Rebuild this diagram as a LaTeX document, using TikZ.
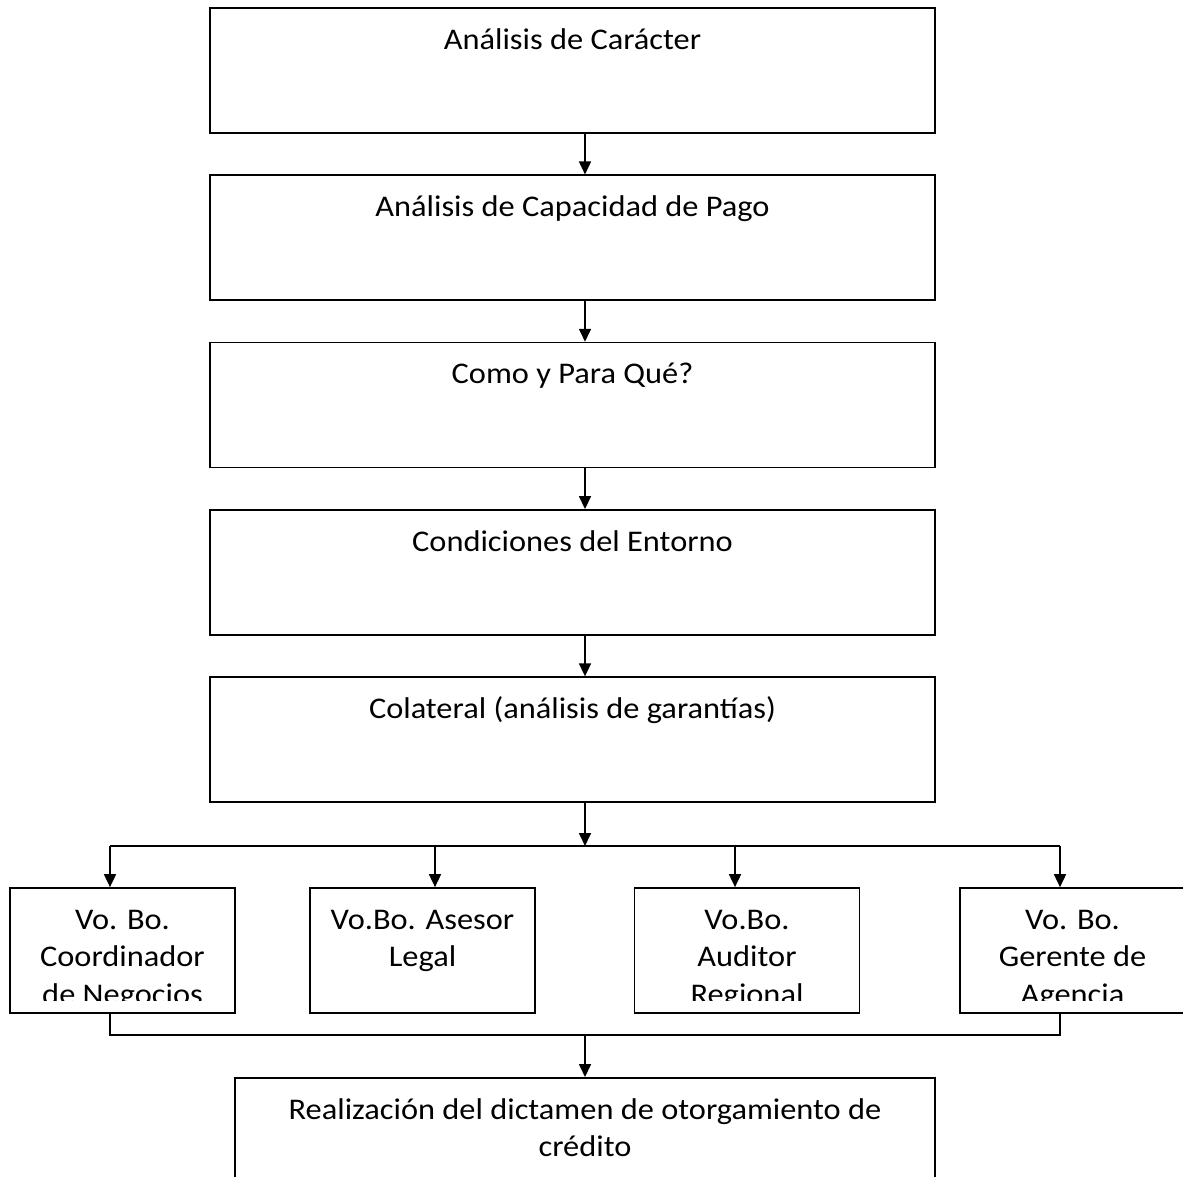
\documentclass[tikz,border=0pt]{standalone}
\usepackage{fontspec}
\setmainfont{Carlito}[FakeStretch=1.08]
\usetikzlibrary{arrows.meta}
\usetikzlibrary{positioning}

\begin{document}
\begin{tikzpicture}[x=1pt,y=1pt,>={Triangle[length=13pt,width=12pt]},line width=1.7pt,
                    big box/.style={rectangle,draw,minimum width=725pt,minimum height=125pt,inner sep=0pt},
                    small box/.style={rectangle,draw,minimum width=225pt,minimum height=125pt,inner sep=0pt},
                    box text/.style={anchor=base,align=center,inner sep=0pt,font=\fontsize{30}{37.5}\selectfont}]

  \clip (0,0) rectangle (1183,-1177);
  \coordinate (axis) at (585,0);

  % main chain
  \node[big box] (car) at (572.5,-70.5) {};
  \node[big box,below=40.6pt of car] (cap) {};
  \node[big box,below=40.6pt of cap] (como) {};
  \node[big box,below=40.6pt of como] (cond) {};
  \node[big box,below=40.6pt of cond] (col) {};

  \node[box text] (car txt) at ([yshift=-42pt]car.north) {Análisis de Carácter};
  \node[box text] (cap txt) at ([yshift=-42pt]cap.north) {Análisis de Capacidad de Pago};
  \node[box text] (como txt) at ([yshift=-42pt]como.north) {Como y Para Qué?};
  \node[box text] (cond txt) at ([yshift=-42pt]cond.north) {Condiciones del Entorno};
  \node[box text] (col txt) at ([yshift=-42pt]col.north) {Colateral (análisis de garantías)};

  % approvals
  \node[small box] (coord) at (122.5,-950.5) {};
  \node[small box] (legal) at (422.5,-950.5) {};
  \node[small box] (audit) at (747,-950.5) {};
  \node[small box] (ger) at (1072.5,-950.5) {};

  % base of a node is its last line: shift by 37.5pt per extra line
  \begin{scope}
    \clip (coord.north west) rectangle ([yshift=13pt]coord.south east);
    \node[box text] (coord txt) at ([yshift=-117pt]coord.north) {Vo. Bo.\\Coordinador\\de Negocios};
  \end{scope}
  \node[box text] (legal txt) at ([yshift=-79.5pt]legal.north) {Vo.Bo. Asesor\\Legal};
  \begin{scope}
    \clip (audit.north west) rectangle ([yshift=13pt]audit.south east);
    \node[box text] (audit txt) at ([yshift=-117pt]audit.north) {Vo.Bo.\\Auditor\\Regional};
  \end{scope}
  \begin{scope}
    \clip (ger.north west) rectangle ([yshift=13pt]ger.south east);
    \node[box text] (ger txt) at ([yshift=-117pt]ger.north) {Vo. Bo.\\Gerente de\\Agencia};
  \end{scope}

  % final box, running past the page
  \node[rectangle,draw,minimum width=700pt,minimum height=140pt,inner sep=0pt,anchor=north] (dict) at (585,-1077) {};
  \node[box text] (dict txt) at ([yshift=-79.5pt]dict.north) {Realización del dictamen de otorgamiento de\\crédito};

  % connectors
  \draw[->] (car.south -| axis) -- (cap.north -| axis);
  \draw[->] (cap.south -| axis) -- (como.north -| axis);
  \draw[->] (como.south -| axis) -- (cond.north -| axis);
  \draw[->] (cond.south -| axis) -- (col.north -| axis);

  \coordinate (split) at (585,-846);
  \coordinate (merge) at (585,-1035);
  \coordinate (c1) at (110,0);
  \coordinate (c2) at (435,0);
  \coordinate (c3) at (735,0);
  \coordinate (c4) at (1060,0);

  \draw[->] (col.south -| axis) -- (split);
  \draw (split -| c1) -- (split -| c4);
  \draw[->] (split -| c1) -- (coord.north -| c1);
  \draw[->] (split -| c2) -- (legal.north -| c2);
  \draw[->] (split -| c3) -- (audit.north -| c3);
  \draw[->] (split -| c4) -- (ger.north -| c4);

  \draw (coord.south -| c1) -- (merge -| c1) -- (merge -| c4) -- (ger.south -| c4);
  \draw[->] (merge) -- (dict.north);
\end{tikzpicture}
\end{document}
